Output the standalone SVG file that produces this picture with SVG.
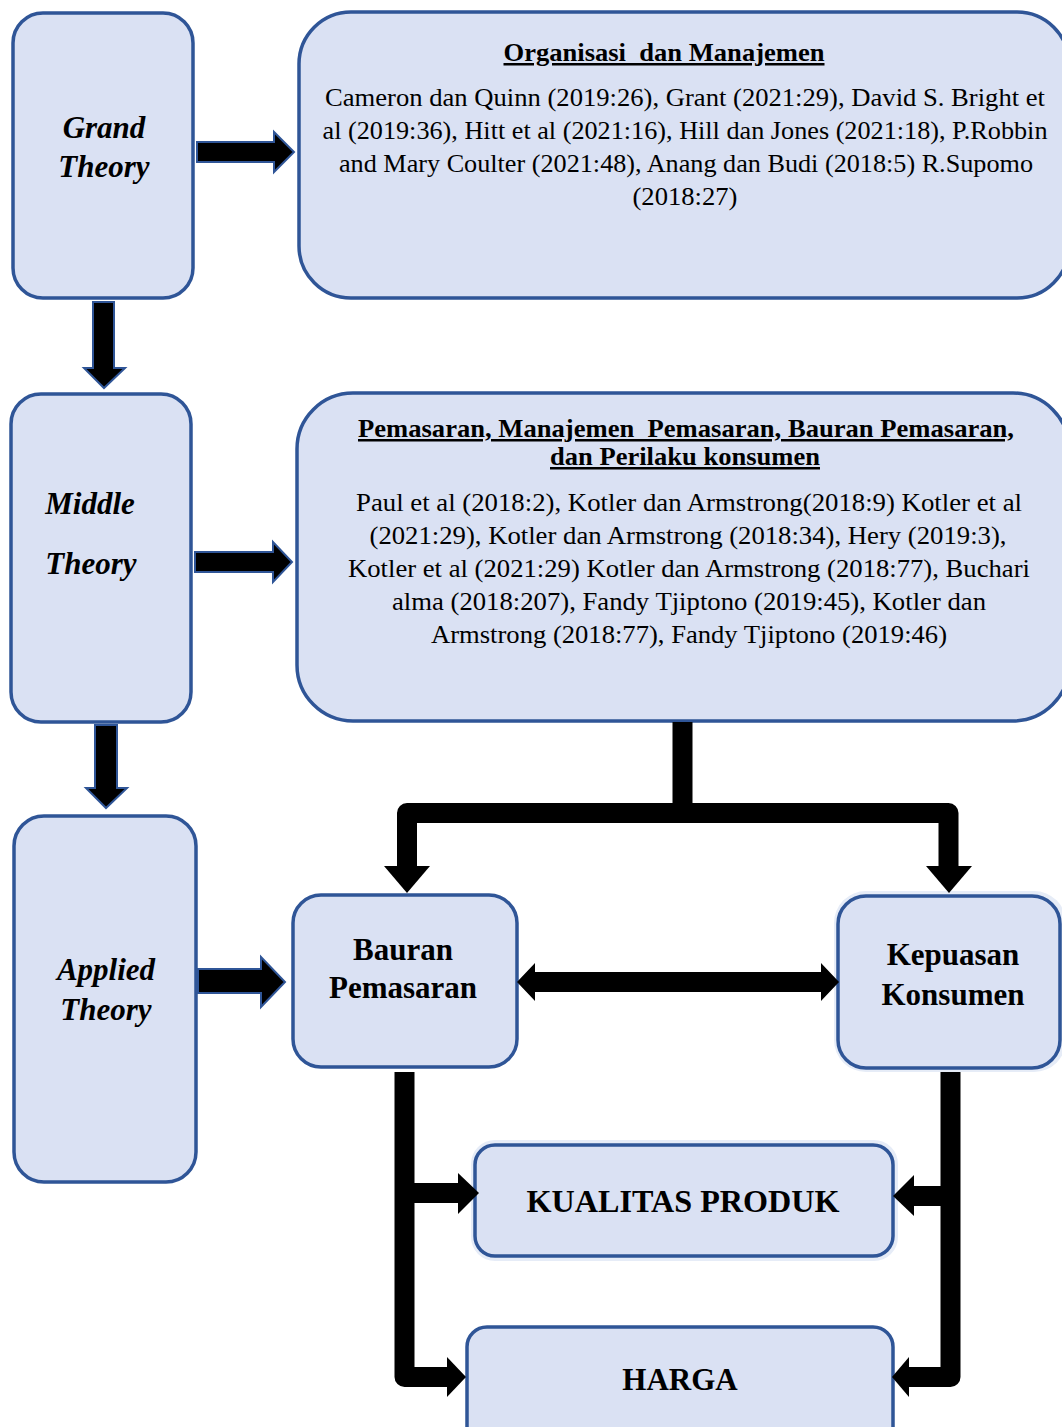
<svg xmlns="http://www.w3.org/2000/svg" width="1062" height="1427" viewBox="0 0 1062 1427">
<style>
.box{fill:#DAE1F3;stroke:#2F5597;stroke-width:3.5}
.halo{fill:#E6ECF7;stroke:none}
.lbl{font-family:"Liberation Serif","Times New Roman",serif;font-weight:bold;font-style:italic;font-size:31px;fill:#000;text-anchor:middle}
.node{font-family:"Liberation Serif","Times New Roman",serif;font-weight:bold;font-size:31px;fill:#000;text-anchor:middle}
.title{font-family:"Liberation Serif","Times New Roman",serif;font-weight:bold;font-size:25px;fill:#000;text-anchor:middle;text-decoration:underline;white-space:pre}
.body{font-family:"Liberation Serif","Times New Roman",serif;font-size:25px;fill:#000;text-anchor:middle}
.barrow{fill:#000;stroke:#2F5597;stroke-width:2;stroke-linejoin:miter}
.line{fill:none;stroke:#000;stroke-width:20;stroke-linejoin:round}
.head{fill:#000}
</style>
<rect width="1062" height="1427" fill="#fff"/>

<g id="grand">
<rect class="box" x="13" y="13" width="180" height="285" rx="30"/>
<text class="lbl" x="104" y="138">Grand</text>
<text class="lbl" x="104" y="177">Theory</text>
</g>

<g id="org">
<rect class="box" x="299" y="12" width="770" height="286" rx="52"/>
<text class="title" x="664" y="61" textLength="321" lengthAdjust="spacingAndGlyphs" xml:space="preserve">Organisasi  dan Manajemen</text>
<text class="body" x="685" y="106" textLength="720" lengthAdjust="spacingAndGlyphs">Cameron dan Quinn (2019:26), Grant (2021:29), David S. Bright et</text>
<text class="body" x="685" y="139" textLength="725" lengthAdjust="spacingAndGlyphs">al (2019:36), Hitt et al (2021:16), Hill dan Jones (2021:18), P.Robbin</text>
<text class="body" x="686" y="172" textLength="694" lengthAdjust="spacingAndGlyphs">and Mary Coulter (2021:48), Anang dan Budi (2018:5) R.Supomo</text>
<text class="body" x="685" y="205" textLength="105" lengthAdjust="spacingAndGlyphs">(2018:27)</text>
</g>

<g id="middle">
<rect class="box" x="11" y="394" width="180" height="328" rx="30"/>
<text class="lbl" x="90" y="514">Middle</text>
<text class="lbl" x="91" y="574">Theory</text>
</g>

<g id="pemasaran">
<rect class="box" x="297" y="393" width="772" height="328" rx="56"/>
<text class="title" x="686" y="437" textLength="656" lengthAdjust="spacingAndGlyphs" xml:space="preserve">Pemasaran, Manajemen  Pemasaran, Bauran Pemasaran,</text>
<text class="title" x="685" y="465" textLength="270" lengthAdjust="spacingAndGlyphs">dan Perilaku konsumen</text>
<text class="body" x="689" y="511" textLength="666" lengthAdjust="spacingAndGlyphs">Paul et al (2018:2), Kotler dan Armstrong(2018:9) Kotler et al</text>
<text class="body" x="688" y="544" textLength="637" lengthAdjust="spacingAndGlyphs">(2021:29), Kotler dan Armstrong (2018:34), Hery (2019:3),</text>
<text class="body" x="689" y="577" textLength="682" lengthAdjust="spacingAndGlyphs">Kotler et al (2021:29) Kotler dan Armstrong (2018:77), Buchari</text>
<text class="body" x="689" y="610" textLength="594" lengthAdjust="spacingAndGlyphs">alma (2018:207), Fandy Tjiptono (2019:45), Kotler dan</text>
<text class="body" x="689" y="643" textLength="516" lengthAdjust="spacingAndGlyphs">Armstrong (2018:77), Fandy Tjiptono (2019:46)</text>
</g>

<g id="applied">
<rect class="box" x="14" y="816" width="182" height="366" rx="30"/>
<text class="lbl" x="106" y="980">Applied</text>
<text class="lbl" x="106" y="1020">Theory</text>
</g>

<g id="bauran">
<rect class="box" x="293" y="895" width="224" height="172" rx="28"/>
<text class="node" x="403" y="960">Bauran</text>
<text class="node" x="403" y="998">Pemasaran</text>
</g>

<g id="kepuasan">
<rect class="halo" x="834" y="891" width="232" height="181" rx="32"/>
<rect class="box" x="838" y="896" width="222" height="172" rx="28"/>
<text class="node" x="953" y="965">Kepuasan</text>
<text class="node" x="953" y="1005">Konsumen</text>
</g>

<g id="kualitas">
<rect class="halo" x="471" y="1140" width="427" height="121" rx="24"/>
<rect class="box" x="475" y="1145" width="418" height="111" rx="20"/>
<text class="node" x="683" y="1212" textLength="313" lengthAdjust="spacingAndGlyphs">KUALITAS PRODUK</text>
</g>

<g id="harga">
<rect class="box" x="467" y="1327" width="426" height="130" rx="20"/>
<text class="node" x="680" y="1390">HARGA</text>
</g>

<g id="connectors">
<polygon class="barrow" points="197,142 274,142 274,132 294,152 274,172 274,162 197,162"/>
<polygon class="barrow" points="93,302 114,302 114,368 125,368 104,388 84,368 93,368"/>
<polygon class="barrow" points="195,552 273,552 273,542 292,562 273,582 273,572 195,572"/>
<polygon class="barrow" points="95,725 117,725 117,788 127,788 106,808 86,788 95,788"/>
<polygon class="barrow" points="198,969 261,969 261,957 285,982 261,1007 261,993 198,993"/>

<path class="line" d="M682.5,722 V813"/>
<path class="line" d="M407,868 V813 H948.5 V868"/>
<polygon class="head" points="384,866 430,866 407,893"/>
<polygon class="head" points="926,866 972,866 949,893"/>

<polygon class="head" points="517,982 535,963 535,972 821,972 821,963 839,982 821,1001 821,992 535,992 535,1001"/>

<path class="line" d="M404.5,1072 V1377 H450"/>
<path class="line" d="M404.5,1193 H460"/>
<polygon class="head" points="458,1173 479,1193 458,1214"/>
<polygon class="head" points="447,1357 466,1377 447,1397"/>

<path class="line" d="M950.5,1072 V1377 H906"/>
<path class="line" d="M950.5,1196 H912"/>
<polygon class="head" points="914,1175 893,1196 914,1216"/>
<polygon class="head" points="909,1357 892,1377 909,1397"/>
</g>
</svg>
